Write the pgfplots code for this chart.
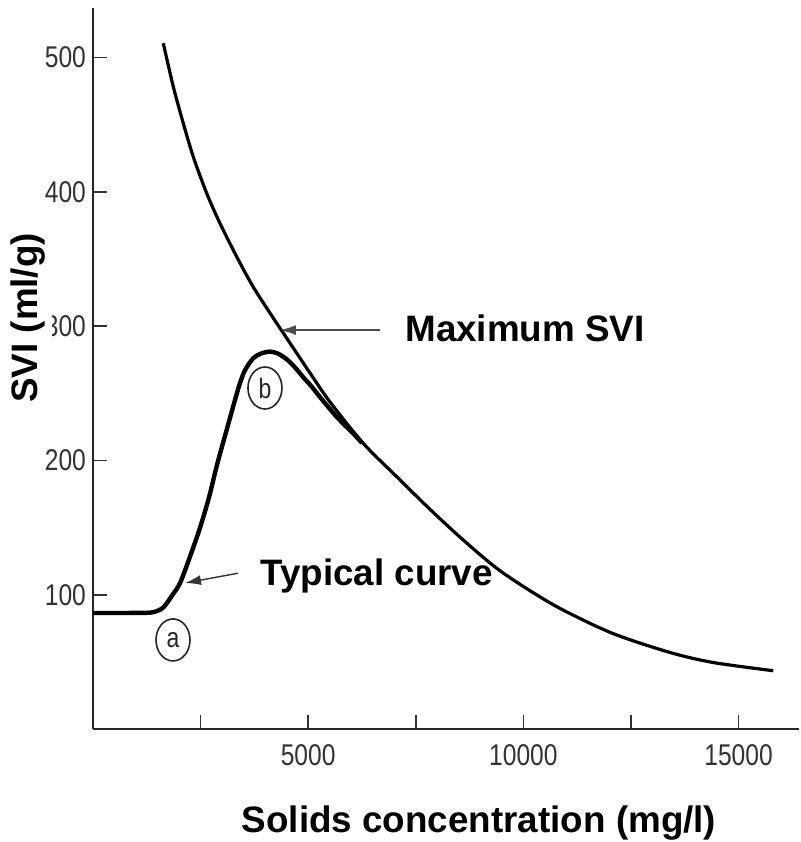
\documentclass[border=0pt]{standalone}
\usepackage{fontspec}
\setmainfont{Liberation Sans}
\newfontfamily\tickfont[FakeStretch=0.82]{Liberation Sans}
\usepackage{pgfplots}
\pgfplotsset{compat=1.18}
\usetikzlibrary{arrows.meta}
\begin{document}
\begin{tikzpicture}
\useasboundingbox (-46.5pt,-56.5pt) rectangle (353.5pt,364.5pt);
\begin{axis}[
  at={(0,0)}, anchor=south west,
  scale only axis, width=352.9pt, height=360.6pt,
  xmin=0, xmax=16400, ymin=0, ymax=537,
  axis x line=bottom, axis y line=left,
  axis line style={-, line width=0.9pt, black!85},
  tick align=inside,
  major tick length=7pt,
  tick style={line width=0.8pt, black!80},
  scaled x ticks=false, scaled y ticks=false,
  xtick={2500,5000,7500,10000,12500,15000},
  xticklabels={,5000,,10000,,15000},
  ytick={100,200,300,400,500},
  yticklabels={100,200,300,400,500},
  ticklabel style={font=\tickfont\fontsize{15}{15}\selectfont, text=black!80},
  xticklabel style={yshift=-4pt},
  xlabel={Solids concentration (mg/l)},
  xlabel style={at={(axis description cs:0.547,-0.1442)}, anchor=base, font=\bfseries\fontsize{18.4}{22}\selectfont},
  ylabel={SVI (ml/g)},
  ylabel style={at={(axis description cs:-0.0921,0.570)}, anchor=center, fill=white, inner xsep=2pt, inner ysep=3.5pt, font=\bfseries\fontsize{18.4}{22}\selectfont},
  clip=false,
]
% Maximum SVI curve
\addplot[smooth, line width=1.6pt, black] coordinates {
 (1633,510.6) (1866,478.3) (2098,451.0) (2330,426.1) (2642,398.9) (2951,376.5)
 (3339,351.7) (3724,329.1) (4189,306.0) (4577,287.4) (5042,265.1) (5507,243.5)
 (6280,212.7) (7056,187.9) (7830,163.6) (8604,140.7) (9380,119.7) (10153,103)
 (10927,88.5) (12089,71) (13406,57) (14412,49.5) (15806,43.4)
};
% Typical curve
\addplot[smooth, line width=2.2pt, black] coordinates {
 (0,86.4) (700,86.4) (1300,86.6) (1500,88) (1650,91) (1850,100) (2023,108.7)
 (2250,128) (2488,150) (2700,173) (2884,197) (3100,222) (3256,240) (3400,256)
 (3530,267) (3721,276) (3900,279.5) (4116,281) (4300,279.5) (4512,275)
 (4700,269) (4884,262) (5079,255) (5279,247) (5674,232) (6047,220) (6250,213)
};
% annotations
\node[anchor=base west, inner sep=0, font=\bfseries\fontsize{18.4}{22}\selectfont] at (axis cs:7249,288.4) {Maximum SVI};
\draw[-{Latex[length=8pt,width=5pt]}, line width=0.7pt, black!70] (axis cs:6668,297) -- (axis cs:4345,297);
\node[anchor=base west, inner sep=0, font=\bfseries\fontsize{18.4}{22}\selectfont] at (axis cs:3880,107.2) {Typical curve};
\draw[-{Latex[length=8pt,width=5pt]}, line width=0.7pt, black!80] (axis cs:3369,116) -- (axis cs:2138,108.7);
\draw[line width=0.8pt, black!85] (axis cs:1859,66.3) ellipse [x radius=8.5pt, y radius=10.5pt];
\node[font=\tickfont\fontsize{14}{14}\selectfont, text=black!85] at (axis cs:1859,66.3) {a};
\draw[line width=0.8pt, black!85] (axis cs:3996,253.9) ellipse [x radius=8.5pt, y radius=10.5pt];
\node[font=\tickfont\fontsize{14}{14}\selectfont, text=black!85] at (axis cs:3996,253.9) {b};
\end{axis}
\end{tikzpicture}
\end{document}
